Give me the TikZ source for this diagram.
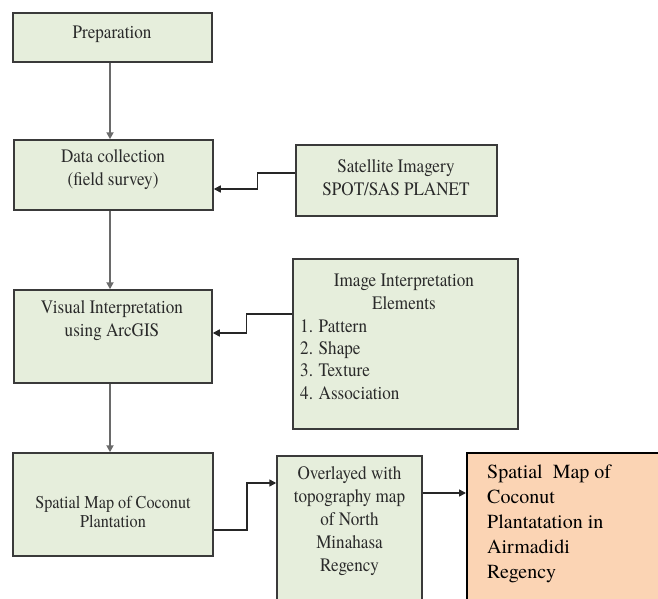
\documentclass[tikz,border=0pt]{standalone}
\usepackage{fontspec}
\setmainfont{texgyretermes}[Extension=.otf, UprightFont=*-regular, BoldFont=*-bold, ItalicFont=*-italic, BoldItalicFont=*-bolditalic]
\newfontfamily\gfont{texgyretermes}[Extension=.otf, UprightFont=*-regular, FakeStretch=0.9]
\usetikzlibrary{arrows.meta}
\definecolor{gfill}{HTML}{E6EEDC}
\definecolor{ofill}{HTML}{FBD4B4}
\definecolor{gline}{HTML}{3A3A3A}
\definecolor{gtextc}{HTML}{2A2A2A}
\definecolor{varrow}{HTML}{6A6A6A}
\tikzset{
  gbox/.style={draw=gline, fill=gfill, line width=1.5pt, inner sep=0pt},
  obox/.style={draw=black, fill=ofill, line width=2pt, inner sep=0pt},
  gtext/.style={text=gtextc, align=center, inner sep=0pt, font=\gfont\fontsize{19}{23}\selectfont},
  ltext/.style={text=gtextc, align=left, inner sep=0pt, font=\gfont\fontsize{19}{22.3}\selectfont},
  otext/.style={text=black, align=left, inner sep=0pt, font=\fontsize{20}{25}\selectfont},
  vflow/.style={draw=varrow, line width=2pt, -{Triangle[length=7pt,width=7pt]}},
  sflow/.style={draw=black!85, line width=1.5pt, -{Triangle[length=7pt,width=7pt]}}
}
\begin{document}
\begin{tikzpicture}[x=1pt,y=-1pt]
\useasboundingbox (0,0) rectangle (658,599);
\clip (0,0) rectangle (658,599);
% boxes
\node[gbox, minimum width=199pt, minimum height=49pt] (prep) at (112.5,37.5) {};
\node[gbox, minimum width=199pt, minimum height=70pt] (data) at (113.5,175) {};
\node[gbox, minimum width=201pt, minimum height=71pt] (sat) at (396.5,180.5) {};
\node[gbox, minimum width=198pt, minimum height=93pt] (vis) at (113,336.5) {};
\node[gbox, minimum width=225pt, minimum height=170pt] (img) at (405.5,344) {};
\node[gbox, minimum width=200pt, minimum height=103pt] (spat) at (113,504.5) {};
\node[gbox, minimum width=145pt, minimum height=159pt] (ov) at (349.5,535.5) {};
\node[obox, minimum width=203pt, minimum height=162pt] (res) at (568.5,534) {};
% texts
\node[gtext] (tprep) at (112,34) {Preparation};
\node[gtext] (tdata) at (113,170) {Data collection\\(field survey)};
\node[gtext] (tsat) at (396,178) {Satellite Imagery\\SPOT/SAS PLANET};
\node[gtext] (tvis) at (112,321) {Visual Interpretation\\using ArcGIS};
\node[gtext] (timg) at (404,291.5) {Image Interpretation\\Elements};
\node[ltext, anchor=west] (tlist) at (300,359.5) {1. Pattern\\2. Shape\\3. Texture\\4. Association};
\node[gtext, font=\gfont\fontsize{18}{19}\selectfont] (tspat) at (113,512) {Spatial Map of Coconut\\Plantation};
\node[gtext] (tov) at (349.5,521) {Overlayed with\\topography map\\of North\\Minahasa\\Regency};
\node[otext, anchor=north west] (tres) at (487,465) {Spatial\ \ Map of\\Coconut\\Plantatation in\\Airmadidi\\Regency};
% vertical flow
\draw[vflow] (prep.south -| 110,0) -- (data.north -| 110,0);
\draw[vflow] (data.south -| 110,0) -- (vis.north -| 110,0);
\draw[vflow] (vis.south -| 110,0) -- (spat.north -| 110,0);
% side connectors
\draw[sflow] ([yshift=7.5pt]sat.west) -- ++(-38pt,0) |- ([yshift=-14pt]data.east);
\draw[sflow] ([yshift=30pt]img.west) -- ++(-46pt,0) |- ([yshift=3.5pt]vis.east);
\draw[sflow] ([yshift=-25.5pt]spat.east) -- ++(33pt,0) |- ([yshift=52.5pt]ov.west);
\draw[sflow] ([yshift=42.5pt]ov.east) -- ([yshift=42.5pt]ov.east -| res.west);
\end{tikzpicture}
\end{document}
